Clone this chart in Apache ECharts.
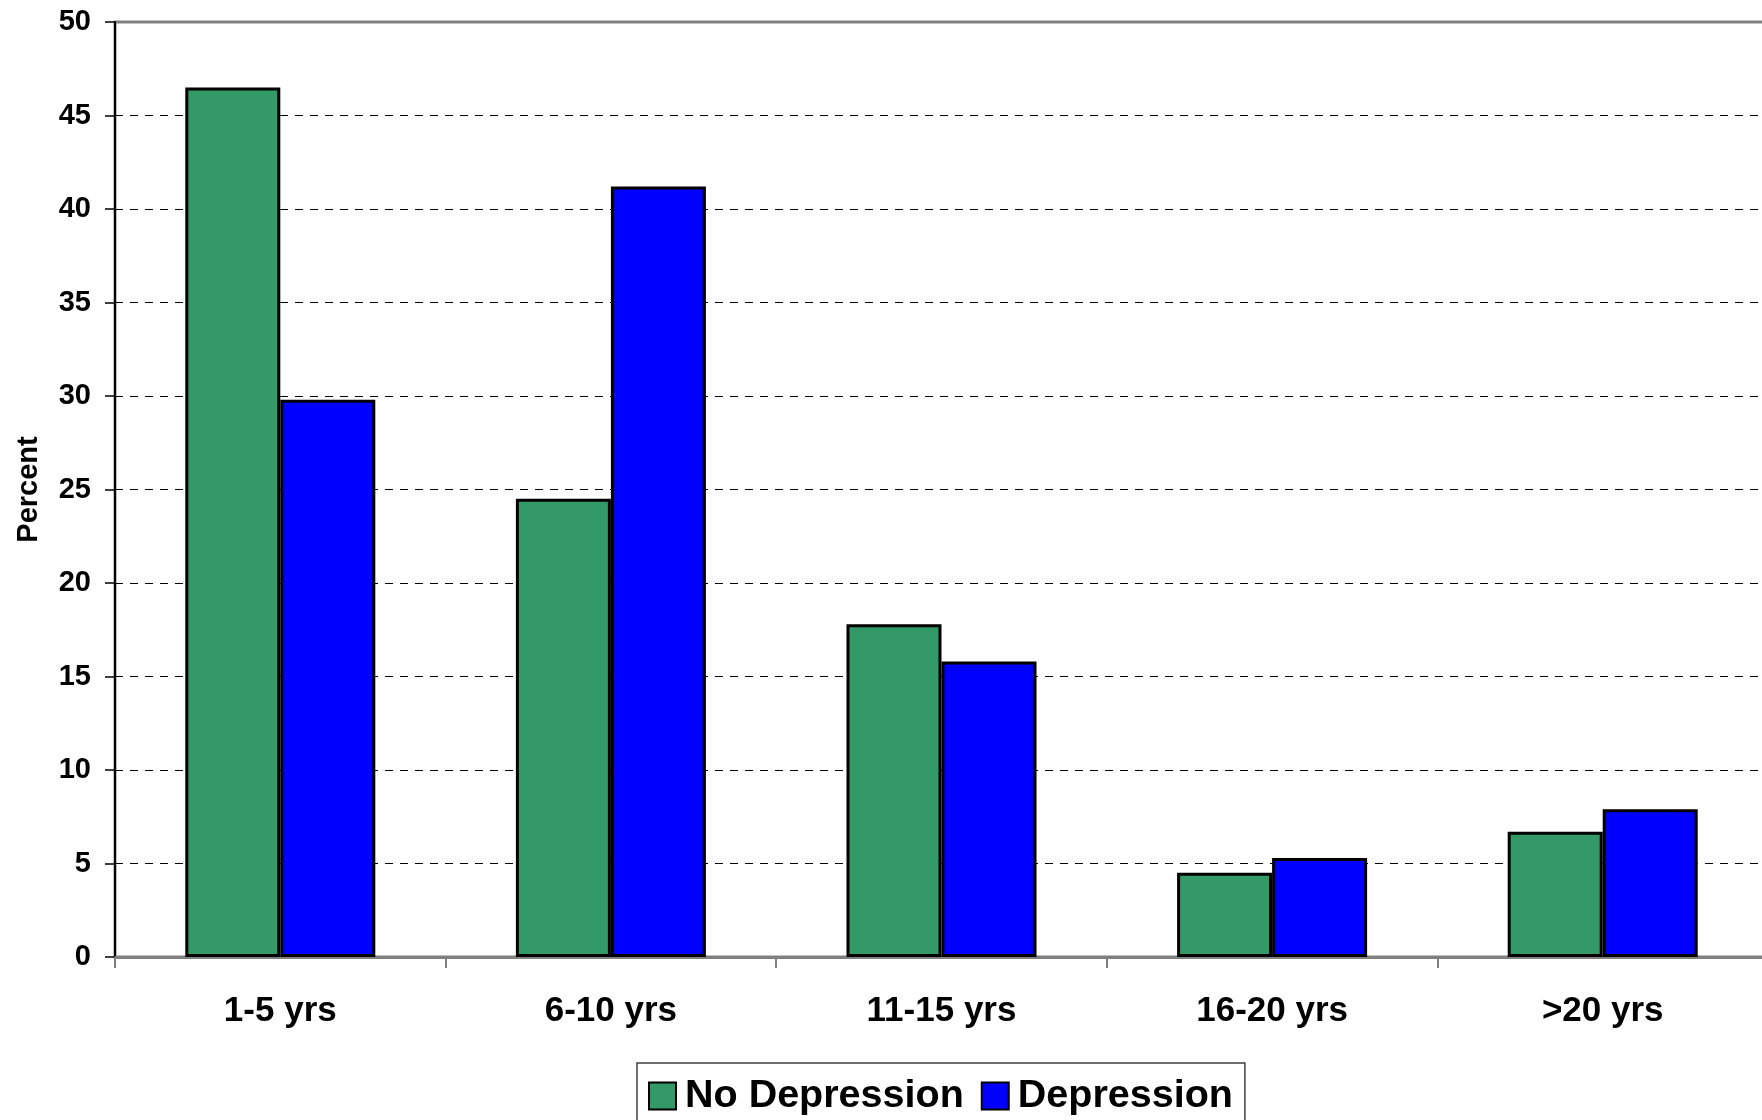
<!DOCTYPE html>
<html>
<head>
<meta charset="utf-8">
<script src="https://cdn.jsdelivr.net/npm/echarts@6/dist/echarts.min.js"></script>
<style>
html,body{margin:0;padding:0;background:#fff;overflow:hidden;}
#c{width:1768px;height:1120px;}
</style>
</head>
<body>
<div id="c"></div>
<script>
const categories = ['1-5 yrs', '6-10 yrs', '11-15 yrs', '16-20 yrs', '>20 yrs'];
const noDepression = [46.5, 24.5, 17.8, 4.5, 6.7];
const depression = [29.8, 41.2, 15.8, 5.3, 7.9];
const seriesNames = ['No Depression', 'Depression'];
const yAxisName = 'Percent';

const FONT = '"Liberation Sans", Arial, sans-serif';
const chart = echarts.init(document.getElementById('c'), null, {renderer: 'canvas'});
chart.setOption({
  animation: false,
  backgroundColor: '#ffffff',
  grid: {
    left: 115, top: 22, right: 0, height: 935,
    show: true, borderColor: '#808080', borderWidth: 3, backgroundColor: 'transparent'
  },
  legend: {
    left: 637, top: 1063,
    data: seriesNames,
    itemWidth: 27, itemHeight: 27, itemGap: 17,
    padding: [13, 12, 9, 11],
    borderColor: '#404040', borderWidth: 1.5,
    icon: 'rect',
    textStyle: {fontSize: 39.5, fontWeight: 'bold', color: '#000', fontFamily: FONT, padding: [0, 0, 0, 4]}
  },
  xAxis: {
    type: 'category',
    data: categories,
    axisLine: {show: true, lineStyle: {color: '#808080', width: 3}},
    axisTick: {show: true, length: 11, lineStyle: {color: '#808080', width: 2}},
    axisLabel: {fontSize: 35, fontWeight: 'bold', color: '#000', fontFamily: FONT, margin: 37},
    splitLine: {show: false}
  },
  yAxis: {
    type: 'value',
    min: 0, max: 50, interval: 5,
    name: yAxisName,
    nameLocation: 'middle',
    nameGap: 72,
    nameRotate: 90,
    nameTextStyle: {fontSize: 29, fontWeight: 'bold', color: '#000', fontFamily: FONT},
    axisLine: {show: true, lineStyle: {color: '#000', width: 2}},
    axisTick: {show: true, length: 10, lineStyle: {color: '#000', width: 1.5}},
    axisLabel: {fontSize: 29, fontWeight: 'bold', color: '#000', fontFamily: FONT, margin: 24},
    splitLine: {show: true, showMinLine: false, showMaxLine: false, lineStyle: {color: '#000', width: 1.2, type: [8, 7]}}
  },
  series: [
    {
      name: seriesNames[0], type: 'bar', data: noDepression,
      barWidth: 95, barGap: '0%',
      itemStyle: {color: '#339966', borderColor: '#000', borderWidth: 3}
    },
    {
      name: seriesNames[1], type: 'bar', data: depression,
      barWidth: 95, barGap: '0%',
      itemStyle: {color: '#0000ff', borderColor: '#000', borderWidth: 3}
    }
  ]
});
</script>
</body>
</html>
